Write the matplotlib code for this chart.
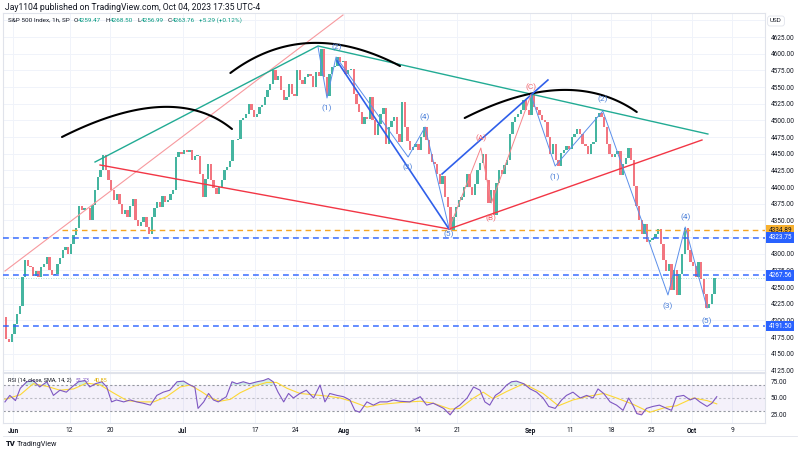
import numpy as np
import matplotlib
matplotlib.use("Agg")
import matplotlib.pyplot as plt

plt.rcParams['font.family'] = ['Roboto', 'DejaVu Sans']

# ---------------- data (S&P 500, 1h chart) ----------------
# price path sampled 3 times per trading day (1/3, 2/3, close)
open_start = 4205
may_prices = [4172, 4168, 4180]                       # May 31
jun_prices = [4195, 4210, 4221, 4265, 4290, 4282, 4280, 4266, 4274,
              4265, 4280, 4284, 4295, 4276, 4268, 4270, 4285, 4294,
              4305, 4310, 4299, 4315, 4328, 4339, 4372, 4365, 4369,
              4368, 4350, 4373, 4395, 4415, 4426, 4448, 4425, 4410,
              4395, 4380, 4389, 4375, 4360, 4366, 4355, 4372, 4382,
              4350, 4342, 4348, 4355, 4340, 4329, 4355, 4368, 4378,
              4370, 4386, 4377, 4380, 4390, 4396, 4445, 4452, 4450]
jul_prices = [4456, 4453, 4456, 4440, 4447, 4447, 4420, 4385, 4412,
              4435, 4410, 4399, 4390, 4400, 4410, 4425, 4430, 4439,
              4470, 4470, 4472, 4500, 4503, 4510, 4525, 4515, 4505,
              4510, 4520, 4523, 4535, 4545, 4555, 4575, 4560, 4566,
              4545, 4530, 4535, 4555, 4540, 4536, 4575, 4560, 4555,
              4565, 4570, 4567, 4550, 4572, 4567, 4607, 4565, 4537,
              4570, 4580, 4582, 4595, 4588, 4589]
aug_prices = [4570, 4575, 4577, 4540, 4525, 4513, 4495, 4505, 4502,
              4535, 4500, 4478, 4495, 4510, 4518, 4465, 4490, 4499,
              4505, 4480, 4468, 4527, 4490, 4469, 4455, 4460, 4464,
              4455, 4475, 4490, 4470, 4450, 4438, 4435, 4420, 4404,
              4416, 4385, 4370, 4336, 4355, 4370, 4380, 4385, 4400,
              4420, 4400, 4388, 4405, 4425, 4436, 4450, 4410, 4376,
              4395, 4358, 4406, 4425, 4420, 4433, 4440, 4480, 4498,
              4505, 4510, 4515, 4530, 4515, 4508]
sep_prices = [4540, 4520, 4516, 4508, 4500, 4497, 4475, 4450, 4465,
              4440, 4431, 4451, 4455, 4462, 4457, 4475, 4480, 4487,
              4480, 4465, 4462, 4450, 4465, 4467, 4505, 4511, 4505,
              4490, 4465, 4450, 4445, 4450, 4454, 4418, 4435, 4444,
              4458, 4440, 4402, 4372, 4350, 4330, 4345, 4318, 4320,
              4323, 4330, 4337, 4315, 4290, 4274, 4285, 4245, 4275,
              4238, 4270, 4300, 4338, 4305, 4288]
oct_prices = [4282, 4265, 4288, 4262, 4240, 4218, 4225, 4240, 4264]

rsi_day = [-1.0, -0.4, 0.3, 0.9, 1.7, 2.5, 3.3, 4.2, 5.0, 5.8, 6.6, 7.3, 8.1, 8.9, 9.5,
           10.2, 11.0, 11.6, 12.2, 12.8, 13.7, 14.5, 15.3, 16.1, 17.0, 17.8, 18.6, 19.4,
           20.3, 21.1, 21.9, 22.5, 22.9, 23.6, 24.2, 24.8, 25.4, 26.4, 27.1, 27.7, 28.5,
           29.3, 30.2, 31.0, 31.6, 32.2, 32.8, 33.5, 34.1, 34.7, 35.5, 36.3, 37.2, 38.0,
           38.6, 39.2, 40.1, 40.9, 41.7, 42.3, 42.9, 43.8, 44.6, 45.4, 46.3, 47.1, 47.9,
           49.1, 50.4, 51.2, 52.0, 53.3, 54.1, 54.7, 55.3, 56.2, 57.0, 57.8, 58.4, 59.0,
           59.7, 60.3, 61.1, 61.7, 62.3, 63.2, 64.0, 64.8, 65.6, 66.3, 67.1, 67.9, 68.5,
           69.3, 70.2, 71.0, 71.8, 72.4, 73.1, 73.9, 74.7, 75.5, 76.2, 76.8, 77.2, 77.8,
           78.4, 79.2, 80.0, 80.9, 81.5, 82.1, 83.0, 83.8, 84.4, 85.0, 85.9, 86.5, 87.1]
rsi_val = [44, 54, 46, 65, 75, 77, 67, 75, 54, 62, 59, 67, 75, 77, 67,
           72, 75, 67, 44, 47, 44, 47, 44, 42, 39, 54, 59, 62,
           75, 76, 70, 67, 34, 44, 57, 47, 44, 52, 75, 72, 75,
           72, 75, 77, 80, 75, 59, 44, 57, 50, 57, 62, 50, 70,
           44, 57, 54, 52, 47, 31, 28, 44, 39, 44, 44, 47, 45,
           44, 52, 39, 42, 34, 24, 34, 39, 50, 67, 62, 44, 39,
           54, 59, 70, 75, 76, 72, 64, 59, 50, 37, 34, 47, 54,
           59, 50, 54, 50, 64, 57, 44, 39, 31, 50, 37, 26, 24,
           34, 37, 39, 34, 31, 52, 54, 47, 50, 44, 37, 42, 52]
sma_day = [-1.0, 0.9, 2.5, 4.2, 5.8, 7.5, 9.1, 10.8, 12.4, 14.1, 15.7, 17.4, 19.0, 20.7,
           21.9, 23.3, 24.5, 25.6, 26.9, 28.1, 29.8, 31.4, 32.6, 33.9, 35.5, 37.2, 38.8,
           40.5, 42.1, 43.8, 45.4, 47.9, 50.4, 52.0, 54.1, 55.3, 57.0, 58.2, 59.4, 61.1,
           63.2, 65.6, 67.5, 69.3, 71.0, 73.1, 74.7, 76.8, 78.8, 80.9, 82.1, 84.2, 85.9, 87.1]
sma_val = [48, 55, 72, 68, 62, 64, 73, 70, 58, 46, 44, 44, 52, 67,
           70, 60, 50, 45, 48, 58, 68, 74, 74, 65, 57, 55, 53,
           50, 44, 36, 40, 43, 45, 42, 33, 34, 50, 59, 49, 60,
           72, 57, 38, 47, 52, 57, 50, 40, 28, 36, 38, 50, 46, 41]

# x-axis ticks (trading-day index) and labels
tick_days = [0, 7, 12, 21, 30, 35, 41, 50, 55, 64, 69, 74, 79, 84, 89]
tick_labels = ["Jun", "12", "20", "Jul", "17", "24", "Aug", "14", "21", "Sep", "11", "18", "25", "Oct", "9"]
price_ticks = list(range(4125, 4626, 25))

# horizontal levels
level_orange = 4334.89
levels_blue = [4323.75, 4267.56, 4191.50]
last_price = 4263.76

# drawings: anchors as (trading-day index, price)
pink_days, pink_prices = [-0.99, 40.84], [4274, 4658]
teal_days, teal_prices = [10.15, 37.75, 86.0], [4437.5, 4611.5, 4479.5]
red_days, red_prices = [10.77, 53.96, 85.27], [4433, 4337, 4470.5]
arcs = [((6.06, 4475), (18.2, 4520), (27.1, 4487)),
        ((26.9, 4571), (36.8, 4616), (47.9, 4581.5)),
        ((55.9, 4503.5), (67.7, 4545.5), (77.2, 4512.5))]
wave1_days = [37.75, 38.86, 39.98, 48.9, 51.0, 53.96]
wave1_prices = [4610, 4533.5, 4595, 4445, 4490, 4338.5]
thick1_days, thick1_prices = [40.1, 53.96], [4589, 4337]
thick2_days, thick2_prices = [53.1, 66.2], [4419.5, 4560.5]
abc_days = [53.96, 57.9, 59.2, 64.1]
abc_prices = [4337, 4458.5, 4376, 4538]
wave2_days = [64.1, 67.1, 73.0, 81.06, 83.2, 85.9]
wave2_prices = [4538, 4431.5, 4514, 4238, 4340, 4218.5]
wave1_labels = [("(1)", 38.86, 4518), ("(2)", 40.1, 4610), ("(3)", 48.9, 4430),
                ("(4)", 51.0, 4505), ("(5)", 53.96, 4329.5)]
abc_labels = [("(A)", 57.9, 4473.5), ("(B)", 59.2, 4353.5), ("(C)", 64.1, 4550)]
wave2_labels = [("(1)", 67.1, 4415), ("(2)", 73.0, 4532), ("(3)", 81.06, 4221.5),
                ("(4)", 83.2, 4355), ("(5)", 85.9, 4199)]

# ---------------- figure ----------------
W, H = 800, 453
fig = plt.figure(figsize=(8, 4.53), dpi=100, facecolor="white")
fx = lambda px: px / W
fy = lambda py: 1 - py / H

ax = fig.add_axes([fx(3), fy(372), fx(765) - fx(3), fy(13) - fy(372)])
rax = fig.add_axes([fx(3), fy(423), fx(765) - fx(3), fy(373) - fy(423)], sharex=ax)

xmin, xmax = -1.24, 93.07
ax.set_xlim(xmin, xmax)
ax.set_ylim(4122.5, 4661)
rax.set_ylim(11.5, 88.5)

grid_c = "#f0f3fa"
for a in (ax, rax):
    for s in a.spines.values():
        s.set_color("#e0e3eb")
        s.set_linewidth(0.8)
    for d in tick_days:
        a.axvline(d, color=grid_c, lw=0.7, zorder=0)
for p in range(4125, 4676, 25):
    ax.axhline(p, color=grid_c, lw=0.7, zorder=0)

# candles
closes = np.array(may_prices + jun_prices + jul_prices + aug_prices + sep_prices + oct_prices, float)
opens = np.concatenate([[open_start], closes[:-1]])
xs = np.arange(len(closes)) / 3.0 - 1 + 1 / 6.0
up = closes >= opens
body_lo = np.minimum(opens, closes)
body_h = np.maximum(np.abs(closes - opens), 1.2)
ax.bar(xs[up], body_h[up], bottom=body_lo[up], width=0.29, color="#45b5a0", linewidth=0, zorder=2)
ax.bar(xs[~up], body_h[~up], bottom=body_lo[~up], width=0.29, color="#f27680", linewidth=0, zorder=2)

# horizontal levels
ax.plot([6.06, xmax], [level_orange] * 2, color="#f5a623", lw=1.0, dashes=(4, 3), zorder=3)
for lv in levels_blue:
    ax.axhline(lv, color="#2962ff", lw=1.2, dashes=(3.5, 2.5), alpha=0.85, zorder=3)
ax.axhline(last_price, color="#22ab94", lw=0.6, ls=(0, (1, 2)), alpha=0.5, zorder=3)

# trend lines
ax.plot(pink_days, pink_prices, color="#f7999e", lw=0.8, zorder=3)
ax.plot(teal_days, teal_prices, color="#22ab94", lw=1.0, zorder=3)
ax.plot(red_days, red_prices, color="#f23645", lw=1.0, zorder=3)

def bezier(p0, apex, p2, n=80):
    p0, apex, p2 = map(np.array, (p0, apex, p2))
    c = 2 * apex - (p0 + p2) / 2
    t = np.linspace(0, 1, n)[:, None]
    return (1 - t) ** 2 * p0 + 2 * (1 - t) * t * c + t ** 2 * p2

for a0, ap, a2 in arcs:
    pts = bezier(a0, ap, a2)
    ax.plot(pts[:, 0], pts[:, 1], color="#000000", lw=1.5, zorder=4, solid_capstyle="round")

ax.plot(wave1_days, wave1_prices, color="#5b8fea", lw=0.7, zorder=4)
ax.plot(wave2_days, wave2_prices, color="#5b8fea", lw=0.7, zorder=4)
ax.plot(thick1_days, thick1_prices, color="#2f5fea", lw=1.2, zorder=4)
ax.plot(thick2_days, thick2_prices, color="#2f5fea", lw=1.2, zorder=4)
ax.plot(abc_days, abc_prices, color="#f7868c", lw=0.7, zorder=4)

for txt, d, p in wave1_labels + wave2_labels:
    ax.text(d, p, txt, color="#4a7fd8", fontsize=6, ha="center", va="center", zorder=6)
for txt, d, p in abc_labels:
    ax.text(d, p, txt, color="#f2636c", fontsize=6, ha="center", va="center", zorder=6)

# price scale (4325 label is hidden behind the 4323.75 marker, as in the reference)
ax.yaxis.tick_right()
ax.set_yticks(price_ticks)
ax.set_yticklabels(["" if v == 4325 else f"{v:.2f}" for v in price_ticks])
ax.tick_params(axis="y", length=0, pad=4, labelsize=4.7, labelcolor="#131722")
ax.tick_params(axis="x", length=0, labelbottom=False)

hl = [(level_orange, "#f7b02e", "#131722")] + [(v, "#2962ff", "white") for v in levels_blue]
for v, bg, fg in hl:
    ax.text(1.0045, v, f"{v:.2f}", transform=ax.get_yaxis_transform(), ha="left", va="center",
            fontsize=4.7, color=fg, zorder=10, clip_on=False,
            bbox=dict(boxstyle="square,pad=0.3", fc=bg, ec="none"))

# RSI pane
rax.axhspan(30, 70, color="#7e57c2", alpha=0.08, lw=0, zorder=0)
for lv, al in ((70, 1.0), (50, 0.6), (30, 1.0)):
    rax.axhline(lv, color="#9598a1", lw=0.8, dashes=(2, 2), alpha=al, zorder=1)
rd = np.array(rsi_day)
rv = np.array(rsi_val, float)
rax.fill_between(rd, 70, rv, where=rv > 70, interpolate=True, color="#22ab94", alpha=0.2, lw=0)
rax.fill_between(rd, 30, rv, where=rv < 30, interpolate=True, color="#f23645", alpha=0.2, lw=0)
rax.plot(sma_day, sma_val, color="#fdd835", lw=0.8, zorder=3)
rax.plot(rd, rv, color="#7e57c2", lw=0.8, zorder=4)
rax.yaxis.tick_right()
rax.set_yticks([25, 50, 75])
rax.set_yticklabels(["25.00", "50.00", "75.00"])
rax.tick_params(axis="y", length=0, pad=4, labelsize=4.7, labelcolor="#131722")
rax.set_xticks(tick_days)
rax.set_xticklabels(tick_labels)
rax.tick_params(axis="x", length=0, pad=3, labelsize=4.8, labelcolor="#131722")
for lab in rax.get_xticklabels():
    if lab.get_text().isalpha():
        lab.set_fontweight("bold")

# texts
renderer = fig.canvas.get_renderer()

def seq_text(x0, y, parts, size):
    x = x0
    for s, c, gap in parts:
        t = fig.text(fx(x), fy(y), s, fontsize=size, color=c, va="center", ha="left")
        x += t.get_window_extent(renderer).width + gap
    return x

dark, green = "#131722", "#089981"
fig.text(fx(5), fy(7), "Jay1104 published on TradingView.com, Oct 04, 2023 17:35 UTC-4",
         fontsize=6.2, color=dark, va="center", ha="left")
seq_text(8, 20, [("S&P 500 Index, 1h, SP", dark, 4),
                 ("O", dark, 0), ("4259.47", green, 4),
                 ("H", dark, 0), ("4268.50", green, 4),
                 ("L", dark, 0), ("4256.99", green, 4),
                 ("C", dark, 0), ("4263.76", green, 4),
                 ("+5.29 (+0.12%)", green, 0)], 4.6)

seq_text(8, 380, [("RSI (14, close, SMA, 14, 2)", dark, 4),
                  ("51.73", "#7e57c2", 4),
                  ("40.85", "#e0b000", 0)], 4.0)

fig.text(fx(776), fy(21), "USD", fontsize=4.5, color=dark, va="center", ha="center",
         bbox=dict(boxstyle="round,pad=0.4", fc="white", ec="#e0e3eb", lw=0.6))

fig.add_artist(plt.Line2D([fx(3), fx(797)], [fy(436), fy(436)], color="#e0e3eb", lw=0.6))
fig.text(fx(6), fy(444), "TV", fontsize=5.5, fontweight="heavy", color=dark, va="center")
fig.text(fx(17), fy(444), "TradingView", fontsize=5.2, color=dark, va="center")

fig.savefig("out.png", dpi=100, facecolor="white")
